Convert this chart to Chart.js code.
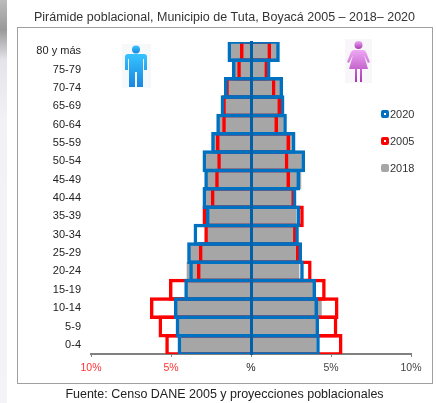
<!DOCTYPE html>
<html><head><meta charset="utf-8">
<style>
html,body{margin:0;padding:0;background:#fff;width:436px;height:403px;overflow:hidden;font-family:"Liberation Sans",Arial,sans-serif}
#wrap{position:relative;width:436px;height:403px}
#edge{position:absolute;left:0;top:0;width:7px;height:403px;background:linear-gradient(to bottom,#bbb 0,#999 30px,#e4e4ea 60px,#f1f1f6 120px,#f3f3f8 403px)}
#frame{position:absolute;left:17px;top:27px;width:414px;height:355px;border:1px solid #a0a0a0}
canvas{position:absolute;left:0;top:0}
.icon{position:absolute}
.lg{position:absolute;left:381px;height:14px;font-size:11px;line-height:14px;color:#333}
.lg i{position:absolute;left:0;top:3px;width:8px;height:8px;box-sizing:border-box;border-radius:2px}
.lg span{position:absolute;left:9px;top:0}
</style></head><body>
<div id="wrap">
<div id="edge"></div>
<div id="frame"></div>
<canvas id="c" width="436" height="403"></canvas>
<svg class="icon" style="left:122px;top:44px" width="29" height="44" viewBox="0 0 29 44">
<defs><linearGradient id="gm" x1="0" y1="0" x2="0" y2="1"><stop offset="0" stop-color="#35c4ff"/><stop offset="1" stop-color="#1a86e0"/></linearGradient></defs>
<rect width="29" height="44" fill="#f6f8f9"/>
<circle cx="14" cy="5.5" r="4" fill="url(#gm)"/>
<path d="M6 10h16q3 0 3 3v13h-3V15h-1v28h-6V28h-2v15H7V15H6v11H3V13q0-3 3-3z" fill="url(#gm)"/>
</svg>
<svg class="icon" style="left:345px;top:39px" width="27" height="44" viewBox="0 0 27 44">
<defs><linearGradient id="gf" x1="0" y1="0" x2="0" y2="1"><stop offset="0" stop-color="#eea8f5"/><stop offset="1" stop-color="#a838b0"/></linearGradient></defs>
<rect width="27" height="44" fill="#f8f6f8"/>
<circle cx="13.5" cy="6" r="4" fill="url(#gf)"/>
<path d="M9 11h9q2 0 3 2l4 10-2 1-4-8 4 14h-6v13h-2V30h-3v13H10V30H4l4-14-4 8-2-1 4-10q1-2 3-2z" fill="url(#gf)"/>
</svg>
<div id="legend"></div>
</div>
<script src="https://cdn.jsdelivr.net/npm/chart.js@4/dist/chart.umd.min.js"></script>
<script>
const ageGroups = ["80 y más","75-79","70-74","65-69","60-64","55-59","50-54","45-49","40-44","35-39","30-34","25-29","20-24","15-19","10-14","5-9","0-4"];
const men2020 = [-1.47,-1.19,-1.69,-1.9,-2.17,-2.49,-3.03,-2.92,-3.03,-2.82,-3.59,-3.99,-3.86,-4.17,-4.82,-4.71,-4.59];
const women2020 = [1.8,1.22,2.01,2.09,2.24,2.78,3.38,3.07,2.84,3.07,2.99,3.19,3.3,4.07,4.19,4.26,4.3];
const men2005 = [-0.69,-0.86,-1.61,-1.8,-1.8,-2.19,-2.11,-2.24,-2.51,-3.03,-2.92,-3.26,-3.38,-5.13,-6.32,-5.78,-5.36];
const women2005 = [1.26,1.07,1.53,1.88,1.69,2.44,2.34,2.44,2.75,3.3,2.85,3.03,3.79,4.67,5.47,5.4,5.72];
const men2018 = [-1.35,-1.05,-1.55,-1.75,-2.0,-2.35,-2.9,-2.8,-2.9,-2.7,-2.75,-3.85,-4.0,-4.05,-4.7,-4.6,-4.45];
const women2018 = [1.6,1.0,1.8,1.9,2.0,2.55,3.15,3.12,2.65,2.8,2.75,2.8,3.0,3.9,4.4,4.1,4.05];
const xTicks = [-10,-5,0,5,10];
const titleText = "Pirámide poblacional, Municipio de Tuta, Boyacá 2005 – 2018– 2020";
const sourceText = "Fuente: Censo DANE 2005 y proyecciones poblacionales";
const legendItems = [["2020","#0070C0"],["2005","#FF0000"],["2018","#A6A6A6"]];
const legendTops = [107,134,161];

const BLUE="#0070C0",RED="#FF0000",GRAY="#A6A6A6";
function stroke(label,data,color){return {label,data,backgroundColor:"rgba(0,0,0,0)",borderColor:color,borderWidth:3.5,borderSkipped:"start",grouped:false,barPercentage:1.19,categoryPercentage:1};}
function fill(label,data,color){return {label,data,backgroundColor:color,borderWidth:0,grouped:false,barPercentage:1,categoryPercentage:1};}

legendItems.forEach(([t,c],i)=>{
  const d=document.createElement("div");d.className="lg";d.style.top=legendTops[i]+"px";
  const sw=t==="2018"?"background:"+c:"border:3px solid "+c+";background:#fff";
  d.innerHTML='<i style="'+sw+'"></i><span>'+t+'</span>';
  document.getElementById("legend").appendChild(d);
});

const centerTexts={id:"centerTexts",afterLayout(c){
  c.boxes.filter(b=>b.options&&typeof b.options.text==="string").forEach(b=>{b.left+=19;b.right+=19;});
}};

new Chart(document.getElementById("c"),{
  type:"bar",
  plugins:[centerTexts],
  data:{labels:ageGroups,datasets:[
    stroke("2020 hombres",men2020,BLUE),stroke("2020 mujeres",women2020,BLUE),
    stroke("2005 hombres",men2005,RED),stroke("2005 mujeres",women2005,RED),
    fill("2018 hombres",men2018,GRAY),fill("2018 mujeres",women2018,GRAY)
  ]},
  options:{
    indexAxis:"y",responsive:false,animation:false,
    layout:{padding:{left:0,right:25,top:0,bottom:0}},
    plugins:{
      legend:{display:false},tooltip:{enabled:false},
      title:{display:true,text:titleText,color:"#333",font:{family:"Liberation Sans",size:12.5,weight:"normal"},padding:{top:10,bottom:17}},
      subtitle:{display:true,position:"bottom",text:sourceText,color:"#222",font:{family:"Liberation Sans",size:12.5,weight:"normal"},padding:{top:4,bottom:1}}
    },
    scales:{
      x:{min:-10,max:10,
        afterBuildTicks(s){s.ticks=xTicks.map(v=>({value:v}));},
        afterFit(s){s.height=29;},
        grid:{display:true,drawOnChartArea:false,drawTicks:true,tickLength:3,color:"#808080"},
        border:{display:true,color:"#808080",width:2},
        ticks:{padding:5,maxRotation:0,autoSkip:false,font:{family:"Liberation Sans",size:10.5},
          color:c=>c.tick.value<0?"#FF3030":(c.tick.value===0?"#222":"#444"),
          callback:v=>v===0?"%":Math.abs(v)+"%"}
      },
      y:{position:"left",afterFit(s){s.width=91;},
        grid:{display:false,drawTicks:false},border:{display:false},
        ticks:{padding:10,autoSkip:false,color:"#222",font:{family:"Liberation Sans",size:11}}
      },
      y2:{type:"category",labels:ageGroups,position:{x:0},offset:true,
        grid:{display:true,offset:false,drawOnChartArea:false,drawTicks:true,tickLength:-3,color:"#000",z:2},
        border:{display:true,color:"#0060A8",width:3,z:2},
        ticks:{display:false}
      }
    }
  }
});
</script>
</body></html>
